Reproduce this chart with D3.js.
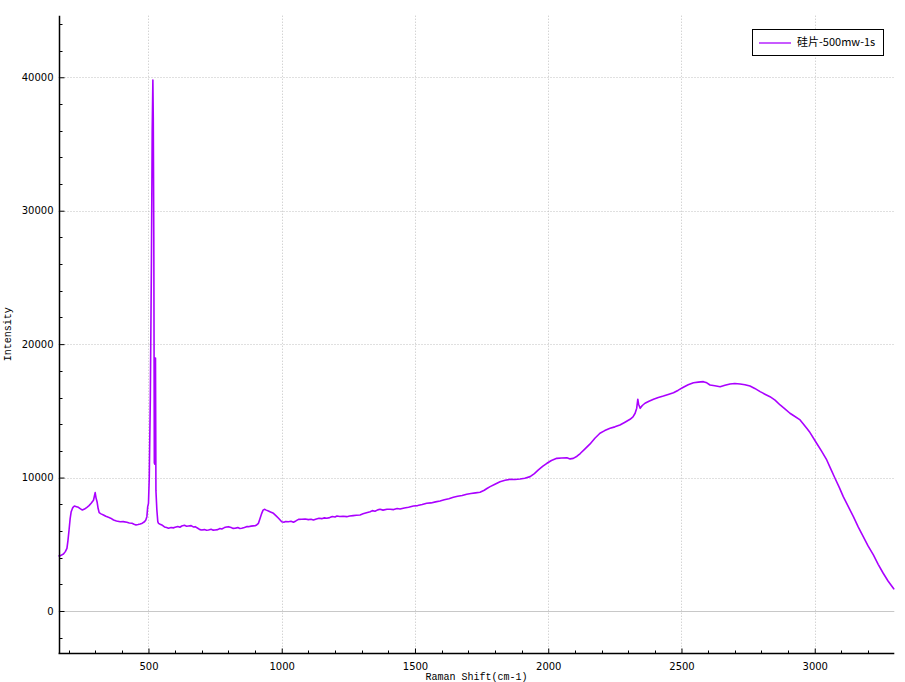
<!DOCTYPE html>
<html>
<head>
<meta charset="utf-8">
<script src="https://cdn.jsdelivr.net/npm/d3@7"></script>
<style>
html,body{margin:0;padding:0;background:#fff;}
svg{display:block;}
</style>
</head>
<body>
<svg id="chart" width="905" height="682"></svg>
<script>
const seriesName = "硅片-500mw-1s";
const xTitle = "Raman Shift(cm-1)";
const yTitle = "Intensity";
const xMajorTicks = [500, 1000, 1500, 2000, 2500, 3000];
const yMajorTicks = [0, 10000, 20000, 30000, 40000];

const ramanShift = [162,170,181,188,194,198,202,206,210,216,222,230,237,245,252,260,269,277,285,290,294,298,300,303,307,311,315,322,331,340,350,358,369,380,394,405,419,428,438,446,453,461,469,477,485,490,494,497,500,503,507,511,514,516.5,518,520,522,524,526.3,528,531.5,535,537.5,544,550,560,568,575,585,593,600,610,618,625,635,643,650,660,668,675,685,693,700,710,718,725,735,743,750,760,768,775,785,793,800,810,818,825,835,843,850,860,868,875,885,893,900,906,912.6,918,925,930,935,942,950,958,969,978,988,994,1000,1008,1015,1025,1035,1044,1053,1063,1075,1088,1100,1110,1119,1130,1140,1150,1160,1169,1180,1190,1200,1207,1218,1230,1244,1255,1268,1280,1294,1305,1318,1332,1340,1350,1360,1369,1380,1395,1407,1420,1433,1444,1460,1476,1494,1510,1527,1544,1560,1577,1594,1610,1627,1644,1660,1677,1694,1710,1727,1744,1760,1770,1782,1800,1819,1838,1857,1875,1894,1912,1932,1948,1963,1980,1995,2012,2032,2050,2070,2082,2094,2108,2120,2138,2157,2175,2194,2212,2232,2250,2269,2288,2307,2318,2326,2332,2336,2339,2345,2353,2363,2378,2395,2413,2432,2450,2470,2488,2507,2525,2545,2563,2582,2595,2607,2625,2645,2663,2682,2700,2720,2738,2757,2775,2795,2813,2832,2851,2870,2888,2907,2920,2945,2970,2980,3007,3025,3045,3060,3076,3092,3107,3126,3145,3163,3182,3200,3220,3238,3257,3275,3295,3298];

const intensity = [4120,4150,4270,4450,4700,5300,6070,6900,7440,7750,7870,7820,7770,7650,7570,7640,7770,7900,8070,8200,8320,8700,8870,8500,8190,7700,7370,7280,7200,7100,7020,6960,6820,6750,6690,6700,6650,6600,6570,6500,6450,6480,6520,6580,6690,6820,7070,7800,8070,10000,16000,26000,36000,39800,37000,28000,11100,11000,18960,9000,7570,6700,6570,6500,6450,6300,6250,6200,6260,6230,6270,6330,6280,6370,6420,6350,6370,6400,6300,6320,6200,6100,6070,6100,6050,6070,6120,6060,6070,6100,6180,6150,6250,6300,6320,6250,6190,6200,6250,6180,6200,6260,6320,6320,6360,6380,6390,6450,6570,6900,7320,7560,7620,7560,7500,7420,7320,7150,6950,6820,6690,6650,6700,6690,6720,6650,6750,6870,6880,6900,6850,6880,6820,6900,6950,6920,6980,6950,7000,7080,7050,7120,7080,7100,7070,7120,7150,7180,7200,7280,7360,7440,7520,7480,7580,7620,7560,7630,7620,7600,7680,7640,7720,7780,7870,7900,7980,8070,8100,8180,8240,8330,8420,8520,8600,8660,8750,8800,8850,8900,9050,9180,9320,9500,9690,9800,9870,9850,9890,9950,10070,10300,10570,10850,11070,11280,11440,11470,11490,11400,11440,11600,11800,12150,12520,12950,13320,13520,13690,13800,13940,14150,14370,14550,14820,15200,15870,15500,15190,15400,15570,15720,15870,16000,16110,16230,16360,16550,16770,16950,17110,17150,17190,17100,16940,16880,16810,16920,17010,17050,17010,16950,16860,16680,16440,16250,16060,15800,15440,15150,14820,14650,14320,13690,13440,12570,12000,11320,10650,9950,9260,8570,7820,7070,6300,5570,4880,4200,3500,2830,2250,1700,1620];

const svg = d3.select("#chart");
const plotLeft = 58.5, plotRight = 894.3, plotTop = 15.7, plotBottom = 653;

const x = d3.scaleLinear().domain([162.4, 3298.5]).range([plotLeft, plotRight]);
const y = d3.scaleLinear().domain([-3148, 44615]).range([plotBottom, plotTop]);

const gridColor = "#c0c0c0";
const grid = svg.append("g");
grid.selectAll("line.vx").data(xMajorTicks).enter().append("line")
  .attr("x1", d => Math.round(x(d)) + 0.5).attr("x2", d => Math.round(x(d)) + 0.5)
  .attr("y1", plotTop).attr("y2", plotBottom)
  .attr("stroke", gridColor).attr("stroke-width", 1).attr("stroke-dasharray", "1,2");
grid.selectAll("line.hy").data(yMajorTicks).enter().append("line")
  .attr("x1", plotLeft).attr("x2", plotRight)
  .attr("y1", d => Math.round(y(d)) + 0.5).attr("y2", d => Math.round(y(d)) + 0.5)
  .attr("stroke", d => d === 0 ? "#c8c8c8" : gridColor).attr("stroke-width", 1)
  .attr("stroke-dasharray", d => d === 0 ? null : "1,2");

const pts = ramanShift.map((v, i) => [v, intensity[i]]);
svg.append("path").datum(pts)
  .attr("d", d3.line().x(d => x(d[0])).y(d => y(d[1])))
  .attr("fill", "none").attr("stroke", "#aa00ff").attr("stroke-width", 1.6)
  .attr("stroke-linejoin", "round");

const tickFont = "DejaVu Sans, Verdana, sans-serif";
const xMinor = d3.range(200, 3300, 100).filter(v => v % 500 !== 0);
const yMinor = d3.range(-2000, 44001, 2000).filter(v => v % 10000 !== 0);

const xAxis = svg.append("g").attr("transform", `translate(0,${Math.round(plotBottom) + 0.5})`);
xAxis.call(d3.axisBottom(x).tickValues(xMajorTicks).tickSize(-5).tickPadding(9).tickFormat(d3.format("d")));
xAxis.append("g").selectAll("line").data(xMinor).enter().append("line")
  .attr("x1", d => Math.round(x(d)) + 0.5).attr("x2", d => Math.round(x(d)) + 0.5)
  .attr("y1", 0).attr("y2", -3).attr("stroke", "#000");
xAxis.select(".domain").attr("d", `M${plotLeft},0H${plotRight}`).attr("stroke", "#000").attr("stroke-width", 1.5);
xAxis.selectAll(".tick line").attr("stroke", "#000");
xAxis.selectAll(".tick text").attr("font-family", tickFont).attr("font-size", 10).attr("fill", "#000");

const yAxis = svg.append("g").attr("transform", `translate(${Math.round(plotLeft) + 0.5},0)`);
yAxis.call(d3.axisLeft(y).tickValues(yMajorTicks).tickSize(-5).tickPadding(6).tickFormat(d3.format("d")));
yAxis.append("g").selectAll("line").data(yMinor).enter().append("line")
  .attr("y1", d => Math.round(y(d)) + 0.5).attr("y2", d => Math.round(y(d)) + 0.5)
  .attr("x1", 0).attr("x2", 3).attr("stroke", "#000");
yAxis.select(".domain").attr("d", `M0,${plotTop}V${plotBottom}`).attr("stroke", "#000").attr("stroke-width", 1.5);
yAxis.selectAll(".tick line").attr("stroke", "#000");
yAxis.selectAll(".tick text").attr("font-family", tickFont).attr("font-size", 10).attr("fill", "#000");

const titleFont = "Liberation Mono, DejaVu Sans Mono, monospace";
svg.append("text").attr("x", (plotLeft + plotRight) / 2).attr("y", 680)
  .attr("text-anchor", "middle").attr("font-family", titleFont).attr("font-size", 10)
  .text(xTitle);
svg.append("text").attr("transform", `translate(11,${(plotTop + plotBottom) / 2}) rotate(-90)`)
  .attr("text-anchor", "middle").attr("font-family", titleFont).attr("font-size", 10)
  .text(yTitle);

const lg = svg.append("g");
lg.append("rect").attr("x", 752.5).attr("y", 29.5).attr("width", 131).attr("height", 26)
  .attr("fill", "#fff").attr("stroke", "#000").attr("stroke-width", 1);
lg.append("line").attr("x1", 759).attr("x2", 791).attr("y1", 43).attr("y2", 43)
  .attr("stroke", "#aa00ff").attr("stroke-width", 1.3);
lg.append("text").attr("x", 797).attr("y", 45.5)
  .attr("font-family", "Noto Sans CJK SC, sans-serif").attr("font-size", 11)
  .text(seriesName);
</script>
</body>
</html>
